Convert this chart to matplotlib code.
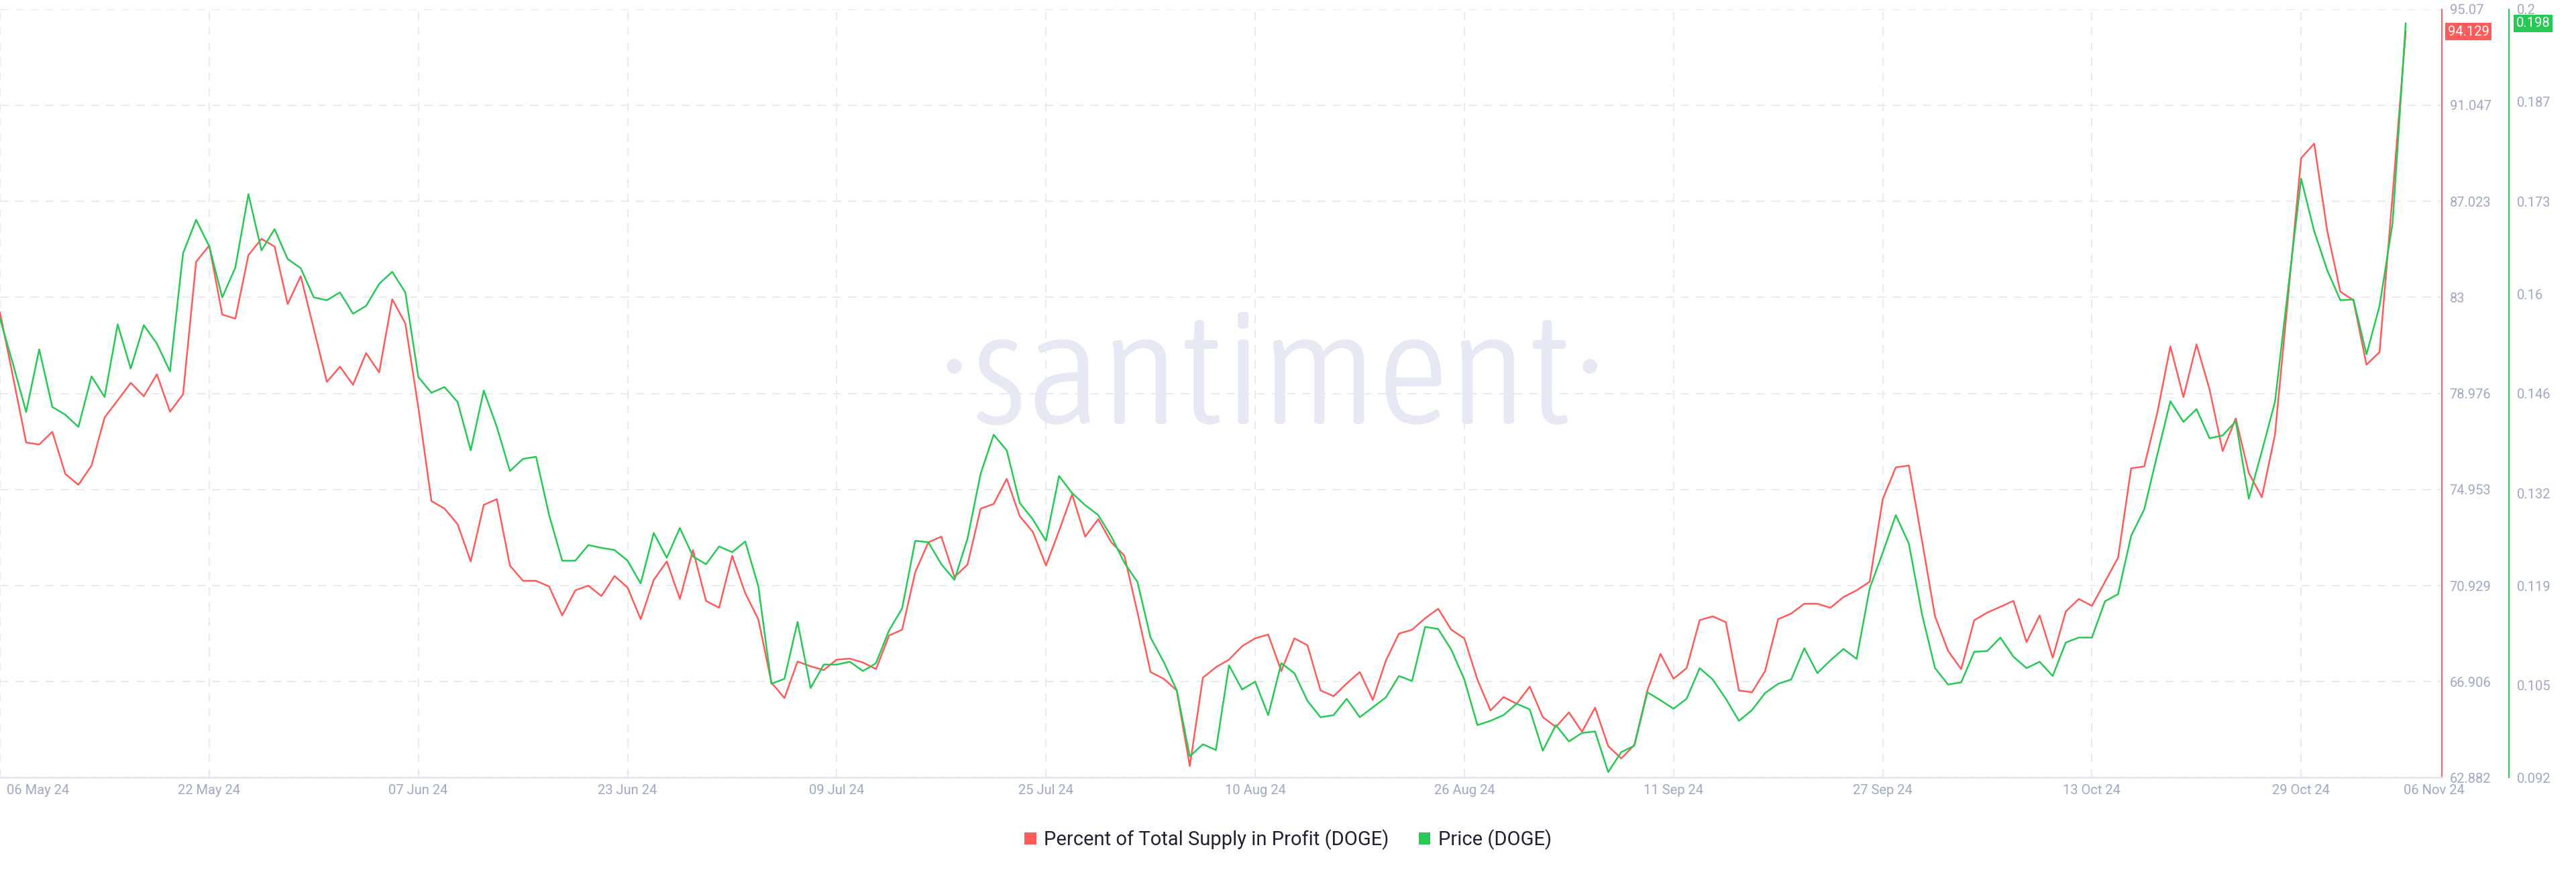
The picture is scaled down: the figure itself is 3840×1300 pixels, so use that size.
import matplotlib
matplotlib.use("Agg")
from matplotlib import pyplot as plt
from matplotlib import font_manager
from matplotlib.font_manager import FontProperties
from matplotlib.patches import Patch
import matplotlib.transforms as mtransforms
import pandas as pd

plt.rcParams['font.family'] = ['Roboto', 'DejaVu Sans']

# daily values, 06 May 24 -> 06 Nov 24
profit_pct = [82.36, 79.66, 76.92, 76.84, 77.37, 75.60, 75.15, 75.96, 77.97, 78.69,
              79.42, 78.86, 79.78, 78.21, 78.94, 84.49, 85.17, 82.28, 82.11, 84.77,
              85.45, 85.13, 82.72, 83.89, 81.67, 79.46, 80.10, 79.34, 80.67, 79.86,
              82.92, 81.91, 78.37, 74.47, 74.15, 73.50, 71.94, 74.31, 74.55, 71.77,
              71.13, 71.13, 70.89, 69.68, 70.73, 70.93, 70.49, 71.33, 70.85, 69.52,
              71.17, 71.94, 70.37, 72.42, 70.29, 70.00, 72.18, 70.61, 69.52, 66.87,
              66.22, 67.75, 67.55, 67.39, 67.83, 67.87, 67.71, 67.43, 68.84, 69.08,
              71.49, 72.74, 72.98, 71.29, 71.81, 74.15, 74.35, 75.40, 73.83, 73.18,
              71.77, 73.22, 74.75, 72.98, 73.71, 72.74, 72.18, 69.80, 67.31, 67.03,
              66.54, 63.37, 67.07, 67.51, 67.83, 68.39, 68.72, 68.88, 67.35, 68.72,
              68.43, 66.54, 66.30, 66.83, 67.31, 66.14, 67.79, 68.92, 69.08, 69.56,
              69.96, 69.08, 68.72, 66.99, 65.70, 66.26, 65.98, 66.70, 65.42, 65.01,
              65.62, 64.81, 65.82, 64.21, 63.69, 64.25, 66.54, 68.07, 67.03, 67.47,
              69.48, 69.64, 69.40, 66.54, 66.46, 67.35, 69.52, 69.76, 70.17, 70.17,
              70.00, 70.45, 70.73, 71.09, 74.55, 75.88, 75.96, 72.82, 69.64, 68.19,
              67.43, 69.48, 69.80, 70.04, 70.29, 68.56, 69.68, 67.91, 69.84, 70.37,
              70.08, 71.09, 72.10, 75.84, 75.92, 78.17, 80.95, 78.82, 81.03, 79.14,
              76.56, 77.93, 75.64, 74.63, 77.25, 83.00, 88.83, 89.44, 85.78, 83.24,
              82.88, 80.18, 80.71, 87.31, 94.129]

price = [0.1565, 0.1501, 0.1434, 0.1522, 0.1441, 0.1430, 0.1413, 0.1484, 0.1455, 0.1557,
         0.1495, 0.1556, 0.1530, 0.1491, 0.1657, 0.1704, 0.1667, 0.1595, 0.1637, 0.1740,
         0.1661, 0.1691, 0.1649, 0.1636, 0.1595, 0.1591, 0.1602, 0.1572, 0.1583, 0.1614,
         0.1631, 0.1602, 0.1483, 0.1461, 0.1469, 0.1448, 0.1380, 0.1464, 0.1413, 0.1351,
         0.1368, 0.1371, 0.1289, 0.1225, 0.1225, 0.1247, 0.1243, 0.1240, 0.1225, 0.1193,
         0.1264, 0.1229, 0.1271, 0.1231, 0.1220, 0.1245, 0.1237, 0.1252, 0.1189, 0.1052,
         0.1059, 0.1139, 0.1046, 0.1079, 0.1079, 0.1083, 0.1070, 0.1081, 0.1127, 0.1158,
         0.1253, 0.1251, 0.1220, 0.1198, 0.1256, 0.1347, 0.1402, 0.1380, 0.1306, 0.1283,
         0.1253, 0.1344, 0.1320, 0.1303, 0.1289, 0.1259, 0.1222, 0.1195, 0.1117, 0.1083,
         0.1043, 0.0950, 0.0967, 0.0959, 0.1078, 0.1044, 0.1055, 0.1008, 0.1081, 0.1067,
         0.1028, 0.1005, 0.1008, 0.1031, 0.1005, 0.1019, 0.1033, 0.1063, 0.1056, 0.1132,
         0.1129, 0.1100, 0.1058, 0.0994, 0.1000, 0.1008, 0.1024, 0.1016, 0.0958, 0.0994,
         0.0971, 0.0983, 0.0985, 0.0928, 0.0956, 0.0965, 0.1040, 0.1029, 0.1017, 0.1031,
         0.1074, 0.1058, 0.1031, 0.1000, 0.1015, 0.1039, 0.1052, 0.1058, 0.1102, 0.1067,
         0.1085, 0.1101, 0.1087, 0.1186, 0.1236, 0.1289, 0.1249, 0.1150, 0.1074, 0.1051,
         0.1054, 0.1097, 0.1098, 0.1117, 0.1090, 0.1074, 0.1083, 0.1063, 0.1110, 0.1117,
         0.1117, 0.1168, 0.1178, 0.1260, 0.1297, 0.1374, 0.1449, 0.1420, 0.1438, 0.1397,
         0.1401, 0.1421, 0.1312, 0.1379, 0.1448, 0.1606, 0.1762, 0.1688, 0.1633, 0.1591,
         0.1592, 0.1515, 0.1583, 0.1700, 0.198]

start_date = '2024-05-06'
pct_ticks = [62.882, 66.906, 70.929, 74.953, 78.976, 83, 87.023, 91.047, 95.07]
price_ticks = [0.092, 0.105, 0.119, 0.132, 0.146, 0.16, 0.173, 0.187, 0.2]
date_ticks = ['2024-05-06', '2024-05-22', '2024-06-07', '2024-06-23', '2024-07-09',
              '2024-07-25', '2024-08-10', '2024-08-26', '2024-09-11', '2024-09-27',
              '2024-10-13', '2024-10-29']
last_label_date = '2024-11-08 04:00'

RED = '#ff5b5b'
GREEN = '#26c953'
GRID = '#e6e8f2'
TICK = '#9fa8c4'
DASH = (0, (7, 5.5))


def weight_num(w):
    if isinstance(w, str):
        return font_manager.weight_dict.get(w, 400)
    return int(w)


def watermark_font():
    # thin + narrow face if there is one, else a light face
    best, best_score = None, None
    for f in font_manager.fontManager.ttflist:
        if f.style != 'normal':
            continue
        w = weight_num(f.weight)
        if w < 250 or w > 400:
            continue
        narrow = ('Condensed' in f.name or 'Narrow' in f.name
                  or 'condensed' in str(f.stretch) or 'Cond' in f.fname)
        if not narrow and f.name not in ('Open Sans', 'Roboto', 'Lato', 'Noto Sans', 'Inter'):
            continue
        score = (0 if narrow else 1, abs(w - 300))
        if best_score is None or score < best_score:
            best, best_score = f, score
    if best is None:
        return FontProperties(family='DejaVu Sans')
    return FontProperties(fname=best.fname)


dates = pd.date_range(start_date, periods=len(profit_pct), freq='D')

fig = plt.figure(figsize=(38.4, 13), dpi=100)
ax = fig.add_axes([0.0, 0.1081, 0.9479, 0.8814])
ax2 = ax.twinx()

wm_font = watermark_font()
wm_font.set_size(180)
wm = ax.text(0.521, 0.460, u'\u00b7santiment\u00b7', transform=ax.transAxes,
             ha='center', va='baseline', color='#e6e9f3', fontproperties=wm_font, zorder=0)
fig.canvas.draw()
w = wm.get_window_extent().width
wm.set_fontsize(180 * 1000.0 / w)

ax.plot(dates, profit_pct, color=RED, lw=1.8, zorder=3)
ax2.plot(dates, price, color=GREEN, lw=1.8, zorder=3)

x0 = pd.Timestamp(start_date)
ax.set_xlim(x0, x0 + pd.Timedelta(days=186.76))
ax.set_ylim(pct_ticks[0], pct_ticks[-1])
ax2.set_ylim(price_ticks[0], price_ticks[-1])

# ticks + gridlines
ax.set_yticks(pct_ticks)
ax.set_yticklabels([('%g' % t) for t in pct_ticks])
ax.set_xticks(pd.to_datetime(date_ticks))
lbls = [''] + [pd.Timestamp(d).strftime('%d %b %y') for d in date_ticks[1:]]
ax.set_xticklabels(lbls)
ax.grid(True, color=GRID, lw=1.3, linestyle=DASH)
ax.set_axisbelow(True)

ax.yaxis.tick_right()
ax.tick_params(axis='both', length=0, labelsize=14.5, labelcolor=TICK)
ax.tick_params(axis='y', pad=8.5)
ax.tick_params(axis='x', pad=7)

ax2.set_yticks(price_ticks)
ax2.set_yticklabels([('%g' % t) for t in price_ticks])
ax2.tick_params(axis='y', length=0, labelsize=14.5, labelcolor=TICK, pad=8.8)

for s in ['left', 'top']:
    ax.spines[s].set_visible(False)
ax.spines['bottom'].set_color('#e2e5ef')
ax.spines['bottom'].set_linewidth(1.8)
ax.spines['right'].set_color(RED)
ax.spines['right'].set_linewidth(1.4)
for s in ['left', 'top', 'bottom']:
    ax2.spines[s].set_visible(False)
ax2.spines['right'].set_position(('outward', 72))
ax2.spines['right'].set_color(GREEN)
ax2.spines['right'].set_linewidth(1.4)

# edge date labels
ax.text(0.0028, -0.017, '06 May 24', transform=ax.transAxes, ha='left', va='center',
        fontsize=14.5, color=TICK)
trans = mtransforms.blended_transform_factory(ax.transData, ax.transAxes)
ax.text(pd.Timestamp(last_label_date), -0.017, '06 Nov 24', transform=trans,
        ha='center', va='center', fontsize=14.5, color=TICK, clip_on=False)

# last value tags
ax.annotate('%g' % profit_pct[-1], xy=(1, profit_pct[-1]), xycoords=('axes fraction', 'data'),
            xytext=(9, 0), textcoords='offset pixels', ha='left', va='center',
            fontsize=14.5, color='white', annotation_clip=False,
            bbox=dict(boxstyle='square,pad=0.18', fc=RED, ec='none'))
ax2.annotate('%g' % price[-1], xy=(1, price[-1]), xycoords=('axes fraction', 'data'),
             xytext=(111, 0), textcoords='offset pixels', ha='left', va='center',
             fontsize=14.5, color='white', annotation_clip=False,
             bbox=dict(boxstyle='square,pad=0.18', fc=GREEN, ec='none'))

handles = [Patch(facecolor=RED, edgecolor='none'), Patch(facecolor=GREEN, edgecolor='none')]
fig.legend(handles, ['Percent of Total Supply in Profit (DOGE)', 'Price (DOGE)'],
           loc='center', bbox_to_anchor=(0.5, 0.037), ncol=2, frameon=False,
           fontsize=21, labelcolor='#1f2233', handlelength=0.6, handleheight=0.6,
           handletextpad=0.4, columnspacing=1.5)

fig.savefig('out.png', dpi=100, facecolor='white')
